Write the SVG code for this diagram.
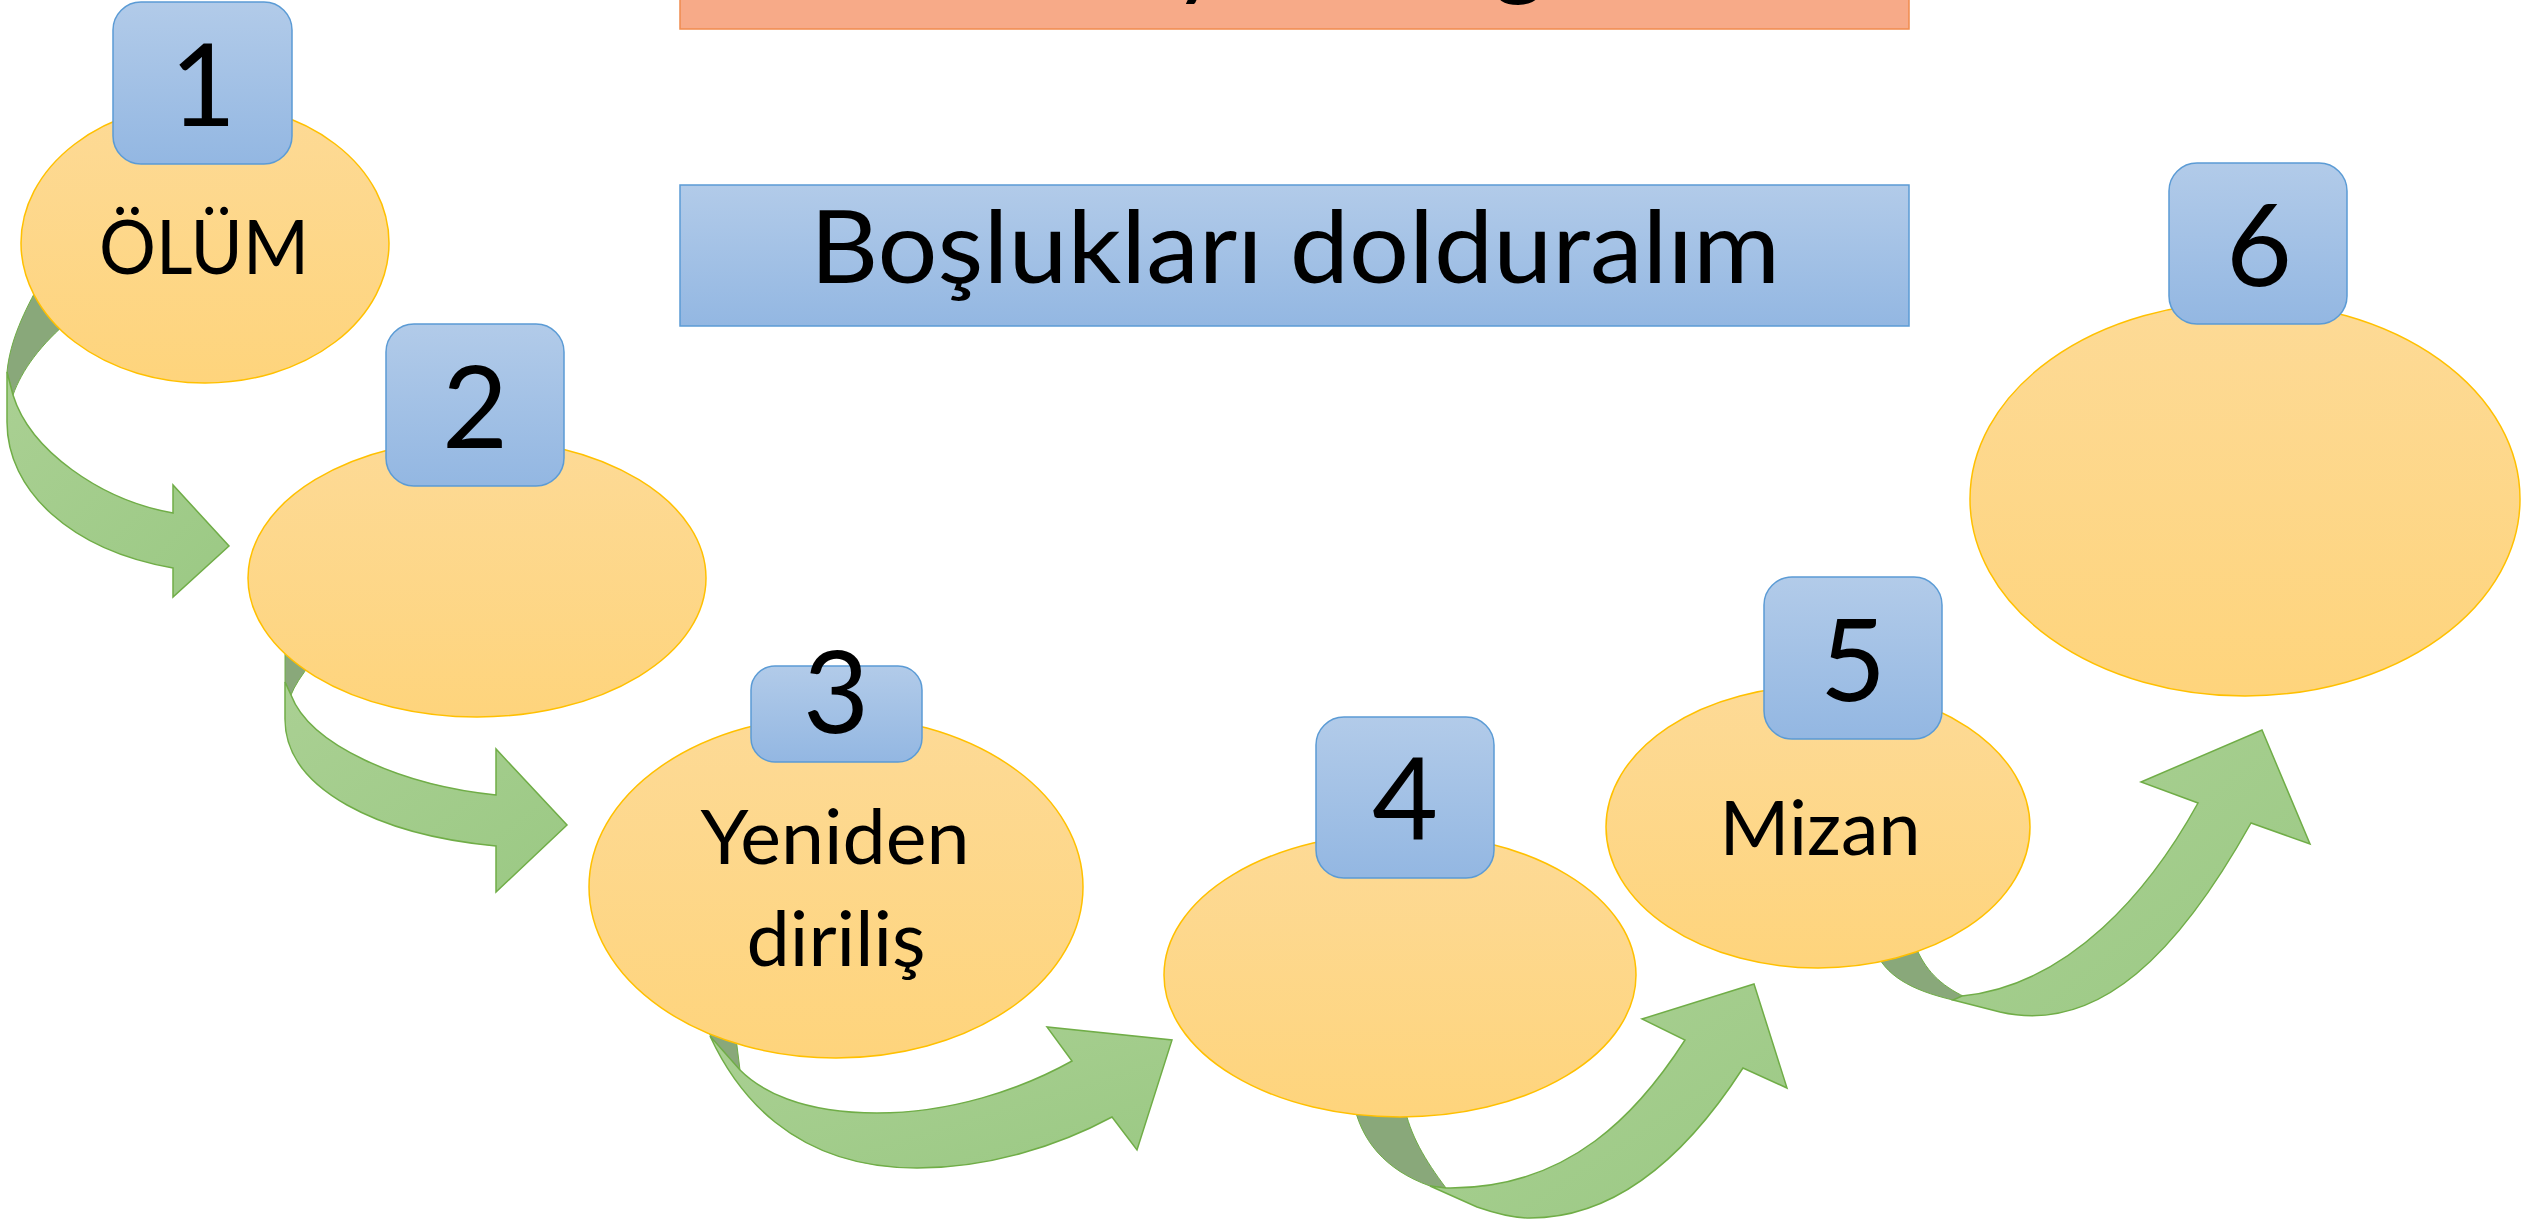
<svg xmlns="http://www.w3.org/2000/svg" width="2522" height="1219" viewBox="0 0 2522 1219">
<defs>
<linearGradient id="gEl" x1="0" y1="0" x2="0" y2="1">
<stop offset="0" stop-color="#FDDA96"/><stop offset="1" stop-color="#FED47C"/>
</linearGradient>
<linearGradient id="gBox" x1="0" y1="0" x2="0" y2="1">
<stop offset="0" stop-color="#B2CBE9"/><stop offset="1" stop-color="#93B7E2"/>
</linearGradient>
<linearGradient id="gArr" x1="0" y1="0" x2="1" y2="1">
<stop offset="0" stop-color="#AAD093"/><stop offset="1" stop-color="#9BC984"/>
</linearGradient>
<style>
.el{fill:url(#gEl);stroke:#FFC000;stroke-width:1.5}
.bx{fill:url(#gBox);stroke:#5B9BD5;stroke-width:1.5}
.num{font-family:Lato,"Open Sans",sans-serif;font-size:114px;fill:#000;text-anchor:middle}
.lbl{font-family:Lato,"Open Sans",sans-serif;font-size:75px;fill:#000;text-anchor:middle}
.ttl{font-family:Lato,"Open Sans",sans-serif;font-size:101px;fill:#000;text-anchor:middle}
.arr{fill:url(#gArr);stroke:#70AD47;stroke-width:1.5;stroke-linejoin:miter}
.fold{fill:#89A87A;stroke:#70AD47;stroke-width:1}
</style>
</defs>
<rect width="2522" height="1219" fill="#FFFFFF"/>

<g id="header">
<rect x="680" y="-10" width="1229" height="39" fill="#F7AA88" stroke="#F08B4E" stroke-width="1.5"/>
<text x="1199" y="-13" style="font-family:Lato,'Open Sans',sans-serif;font-size:101px;text-anchor:middle">y</text>
<text x="1519" y="-13" style="font-family:Lato,'Open Sans',sans-serif;font-size:101px;text-anchor:middle">g</text>
</g>

<g id="title">
<rect x="680" y="185" width="1229" height="141" class="bx"/>
<text x="1295" y="283" class="ttl" textLength="970" lengthAdjust="spacingAndGlyphs">Boşlukları dolduralım</text>
</g>

<g id="connectors">
<path class="fold" d="M40,283 C25,310 10,340 7,372 L13,395 C22,370 40,345 72,318 Z"/>
<path class="arr" d="M7,372 L7,422 C7,490 70,550 173,568 L173,597 L229,546 L173,485 L173,513 C100,500 30,450 13,395 Z"/>
<path class="fold" d="M285,640 L285,682 L291,695 Q296,682 312,662 L300,640 Z"/>
<path class="arr" d="M285,682 L285,719 C285,790 380,835 496,846 L496,892 L567,825 L496,749 L496,795 C400,785 310,745 291,695 Z"/>
<path class="fold" d="M704,1020 L712,1040 L740,1070 L735,1030 Z"/>
<path class="arr" d="M710,1036 C735,1090 790,1168 917,1168 C990,1168 1060,1145 1112,1117 L1137,1150 L1172,1040 L1047,1027 L1072,1061 C1020,1090 950,1113 877,1113 C800,1113 760,1090 740,1070 Z"/>
<path class="fold" d="M1353,1100 C1360,1140 1385,1170 1430,1186 L1446,1188 C1425,1160 1410,1135 1404,1105 Z"/>
<path class="arr" d="M1430,1186 L1477,1207 C1500,1215 1515,1218 1530,1218 C1620,1218 1690,1150 1743,1068 L1787,1088 L1754,984 L1642,1019 L1685,1040 C1640,1110 1570,1190 1446,1188 Z"/>
<path class="fold" d="M1875,950 C1885,975 1910,990 1953,1000 L1965,997 C1940,985 1925,970 1915,945 Z"/>
<path class="arr" d="M1953,1000 L2000,1012 C2100,1035 2180,950 2251,823 L2310,844 L2262,730 L2141,782 L2198,803 C2150,890 2070,985 1962,996 Z"/>
</g>

<g id="node1">
<ellipse cx="205" cy="243" rx="184" ry="140" class="el"/>
<rect x="113" y="2" width="179" height="162" rx="28" class="bx"/>
<text x="203" y="126" class="num">1</text>
<text x="204" y="274" class="lbl" textLength="210" lengthAdjust="spacingAndGlyphs">ÖLÜM</text>
</g>

<g id="node2">
<ellipse cx="477" cy="578" rx="229" ry="139" class="el"/>
<rect x="386" y="324" width="178" height="162" rx="28" class="bx"/>
<text x="475" y="448" class="num">2</text>
</g>

<g id="node3">
<ellipse cx="836" cy="887" rx="247" ry="171" class="el"/>
<rect x="751" y="666" width="171" height="96" rx="24" class="bx"/>
<text x="836" y="733" class="num">3</text>
<text x="835" y="864" class="lbl" textLength="269" lengthAdjust="spacingAndGlyphs">Yeniden</text>
<text x="836" y="966" class="lbl" textLength="179" lengthAdjust="spacingAndGlyphs">diriliş</text>
</g>

<g id="node4">
<ellipse cx="1400" cy="975" rx="236" ry="142" class="el"/>
<rect x="1316" y="717" width="178" height="161" rx="28" class="bx"/>
<text x="1405" y="840" class="num">4</text>
</g>

<g id="node5">
<ellipse cx="1818" cy="827" rx="212" ry="141" class="el"/>
<rect x="1764" y="577" width="178" height="162" rx="28" class="bx"/>
<text x="1853" y="701" class="num">5</text>
<text x="1820" y="855" class="lbl" textLength="201" lengthAdjust="spacingAndGlyphs">Mizan</text>
</g>

<g id="node6">
<ellipse cx="2245" cy="499" rx="275" ry="197" class="el"/>
<rect x="2169" y="163" width="178" height="161" rx="28" class="bx"/>
<text x="2259" y="286" class="num">6</text>
</g>
</svg>
